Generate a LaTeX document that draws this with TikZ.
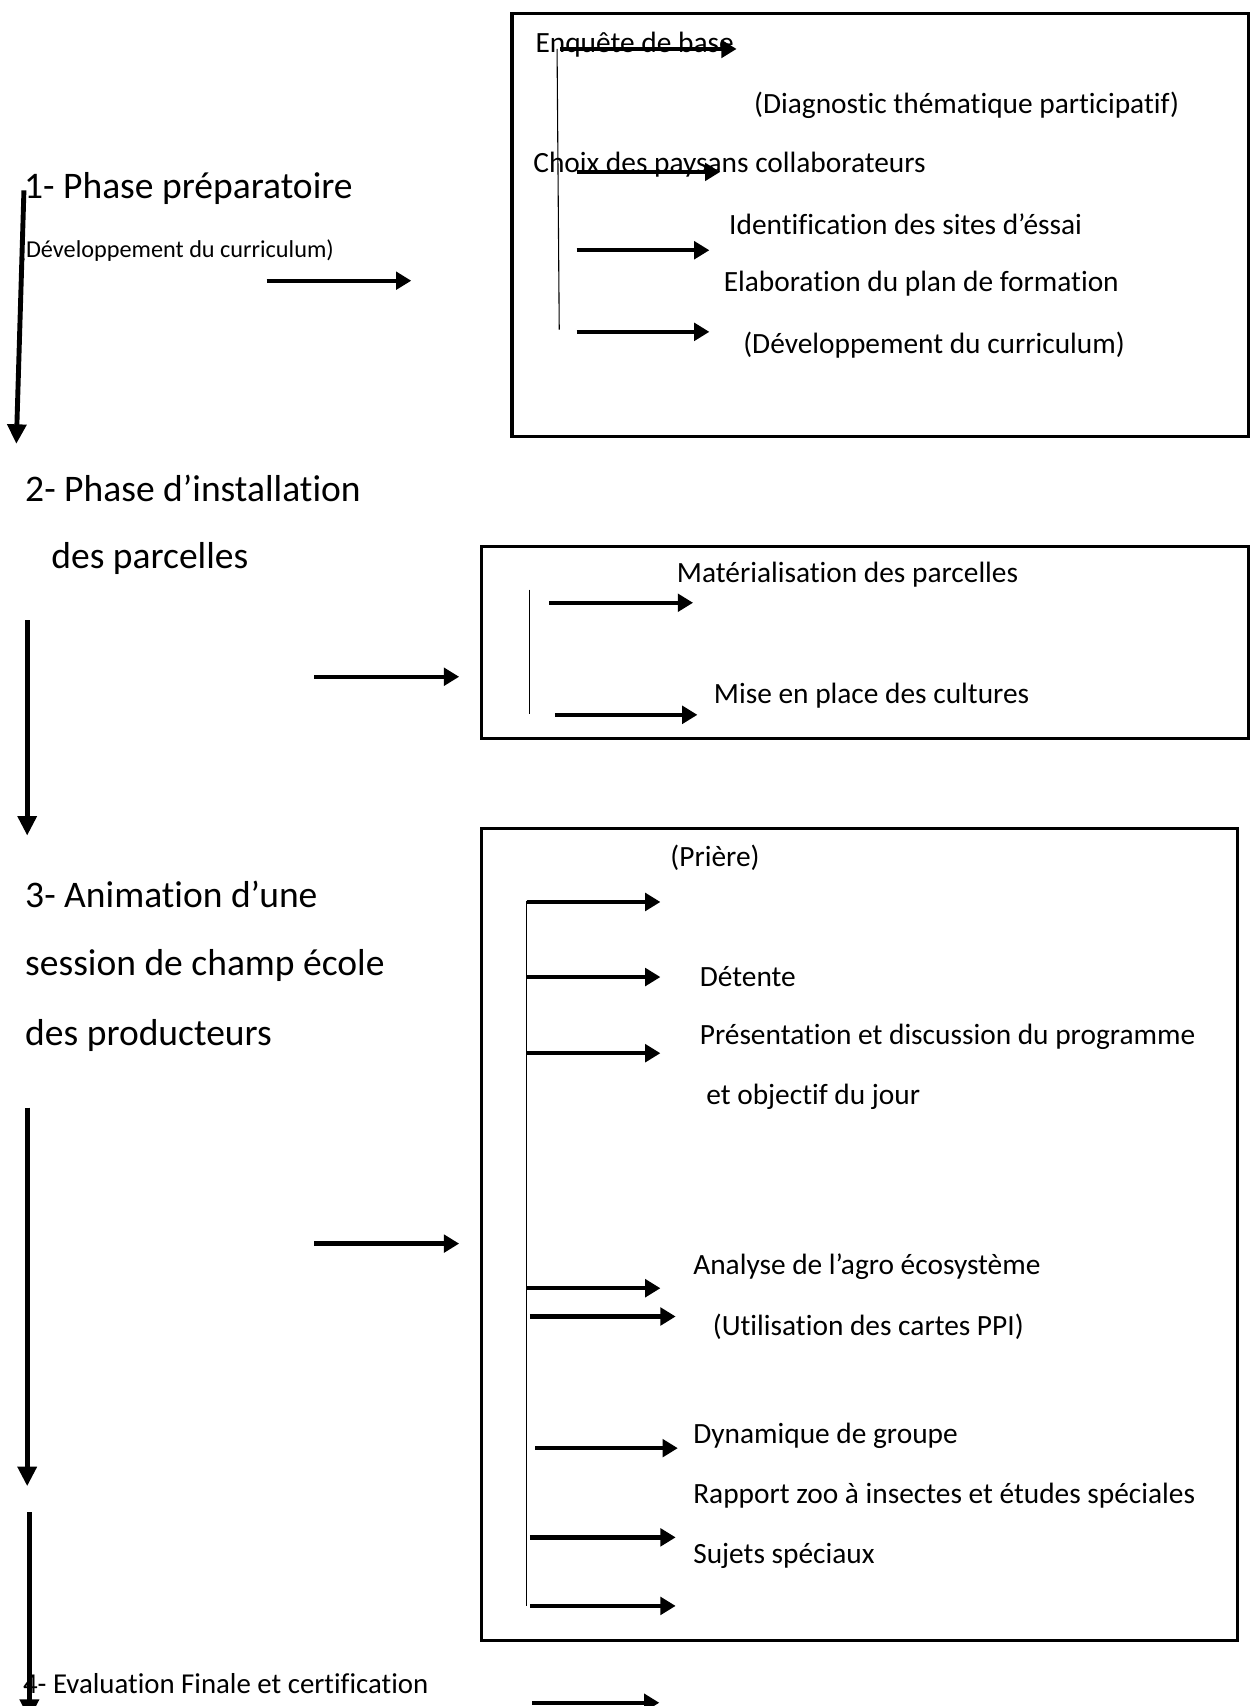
\documentclass[tikz,border=0pt]{standalone}
\usepackage{fontspec}
\setmainfont{Carlito}[Ligatures=NoCommon]
\usetikzlibrary{arrows.meta}
\begin{document}
\begin{tikzpicture}[x=1pt,y=-1pt,
  frame/.style={draw, line width=3pt},
  guide/.style={draw, line width=1pt},
  arr/.style={line width=4pt, -{Triangle[length=14pt,width=16pt]}},
  varr/.style={line width=4.5pt, -{Triangle[length=18pt,width=17pt]}},
  big/.style={font=\fontsize{34.5}{40}\selectfont, anchor=west, inner sep=0pt},
  txt/.style={font=\fontsize{27}{32}\selectfont, anchor=west, inner sep=0pt},
  small/.style={font=\fontsize{22.3}{26}\selectfont, anchor=west, inner sep=0pt}]
\fill[white] (0,0) rectangle (1149,1568);
\useasboundingbox (0,0) rectangle (1149,1568);

% ---------- left column ----------
\node[big] (p1) at (22,173) {1- Phase préparatoire};
\node[small] (p1s) at (17,230) {(Développement du curriculum)};
\node[big] (p2a) at (23,449) {2- Phase d’installation};
\node[big] (p2b) at (47,513) {des parcelles};
\node[big] (p3a) at (23,822) {3- Animation d’une};
\node[big] (p3b) at (23,887) {session de champ école};
\node[big] (p3c) at (23,952) {des producteurs};
\node[font=\fontsize{26.5}{31}\selectfont, anchor=west, inner sep=0pt] (p4) at (21,1547) {4- Evaluation Finale et certification};

\coordinate (v1s) at (22,175);  \coordinate (v1e) at (15,408);
\coordinate (v2s) at (25,570);  \coordinate (v2e) at (25,768);
\coordinate (v3s) at (25,1018); \coordinate (v3e) at (25,1366);
\coordinate (v4s) at (27,1390); \coordinate (v4e) at (27,1580);
\draw[varr] (v1s) -- (v1e);
\draw[varr] (v2s) -- (v2e);
\draw[varr] (v3s) -- (v3e);
\draw[varr] (v4s) -- (v4e);

\coordinate (h1s) at (245,258);  \coordinate (h1e) at (378,258);
\coordinate (h2s) at (289,622);  \coordinate (h2e) at (422,622);
\coordinate (h3s) at (289,1143); \coordinate (h3e) at (422,1143);
\coordinate (h4s) at (489,1565); \coordinate (h4e) at (606,1565);
\draw[arr] (h1s) -- (h1e);
\draw[arr] (h2s) -- (h2e);
\draw[arr] (h3s) -- (h3e);
\draw[arr] (h4s) -- (h4e);

% ---------- box 1 ----------
\draw[frame] (470.5,12.5) rectangle (1147.5,401.5);
\draw[guide] (512,45) -- (514,303);
\node[txt] (b1a) at (492,41) {Enquête de base};
\node[txt] (b1b) at (693,97) {(Diagnostic thématique participatif)};
\node[txt] (b1c) at (490,151) {Choix des paysans collaborateurs};
\node[txt] (b1d) at (670,206) {Identification des sites d’éssai};
\node[txt] (b1e) at (665,261) {Elaboration du plan de formation};
\node[txt] (b1f) at (683,317) {(Développement du curriculum)};
\coordinate (a1s) at (515,45);  \coordinate (a1e) at (677,45);
\coordinate (a2s) at (530,158); \coordinate (a2e) at (662,158);
\coordinate (a3s) at (530,230); \coordinate (a3e) at (652,230);
\coordinate (a4s) at (530,305); \coordinate (a4e) at (652,305);
\draw[arr] (a1s) -- (a1e);
\draw[arr] (a2s) -- (a2e);
\draw[arr] (a3s) -- (a3e);
\draw[arr] (a4s) -- (a4e);

% ---------- box 2 ----------
\draw[frame] (442.5,502.5) rectangle (1147.5,678.5);
\draw[guide] (487,542) -- (487,656);
\node[txt] (b2a) at (622,528) {Matérialisation des parcelles};
\node[txt] (b2b) at (656,639) {Mise en place des cultures};
\coordinate (c1s) at (505,554); \coordinate (c1e) at (637,554);
\coordinate (c2s) at (510,657); \coordinate (c2e) at (641,657);
\draw[arr] (c1s) -- (c1e);
\draw[arr] (c2s) -- (c2e);

% ---------- box 3 ----------
\draw[frame] (442.5,761.5) rectangle (1137.5,1507.5);
\draw[guide] (484,828) -- (484,1476);
\node[txt] (b3a) at (616,788) {(Prière)};
\node[txt] (b3b) at (643,898) {Détente};
\node[txt] (b3c) at (643,953) {Présentation et discussion du programme};
\node[txt] (b3d) at (649,1008) {et objectif du jour};
\node[txt] (b3e) at (637,1164) {Analyse de l’agro écosystème};
\node[txt] (b3f) at (655,1219) {(Utilisation des cartes PPI)};
\node[txt] (b3g) at (637,1320) {Dynamique de groupe};
\node[txt] (b3h) at (637,1375) {Rapport zoo à insectes et études spéciales};
\node[txt] (b3i) at (637,1430) {Sujets spéciaux};
\coordinate (d1s) at (484,829);  \coordinate (d1e) at (607,829);
\coordinate (d2s) at (484,898);  \coordinate (d2e) at (607,898);
\coordinate (d3s) at (484,968);  \coordinate (d3e) at (607,968);
\coordinate (d4s) at (484,1184); \coordinate (d4e) at (607,1184);
\coordinate (d5s) at (487,1210); \coordinate (d5e) at (621,1210);
\coordinate (d6s) at (492,1331); \coordinate (d6e) at (623,1331);
\coordinate (d7s) at (487,1413); \coordinate (d7e) at (621,1413);
\coordinate (d8s) at (487,1476); \coordinate (d8e) at (621,1476);
\foreach \i in {1,...,8} {\draw[arr] (d\i s) -- (d\i e);}
\end{tikzpicture}
\end{document}
